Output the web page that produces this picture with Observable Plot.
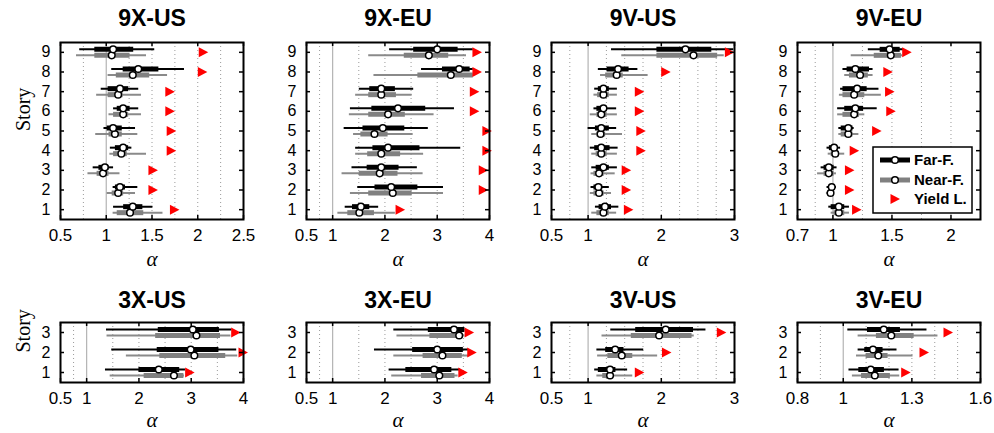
<!DOCTYPE html>
<html><head><meta charset="utf-8">
<script src="https://cdn.jsdelivr.net/npm/d3@7"></script>
<script src="https://cdn.jsdelivr.net/npm/@observablehq/plot@0.6"></script>
<style>
body{margin:0;background:#fff;}
#root{position:relative;width:994px;height:433px;overflow:hidden;font-family:"Liberation Sans",Arial,sans-serif;color:#000;}
.panel{position:absolute;}
</style></head><body><div id="root"></div>
<script>
// Rows are stories 1..n: [min, q1, median, q3, max]
const far9XUS = [[1.08,1.19,1.29,1.40,1.51],[1.075,1.10,1.15,1.21,1.345],[0.857,0.92,0.985,1.03,1.08],[1.045,1.10,1.185,1.245,1.28],[0.975,1.01,1.075,1.175,1.32],[1.08,1.12,1.185,1.26,1.355],[0.945,1.02,1.15,1.245,1.355],[1.06,1.185,1.35,1.575,1.855],[0.71,0.875,1.075,1.30,1.53]];
const near9XUS = [[1.075,1.12,1.26,1.41,1.62],[1.01,1.065,1.13,1.19,1.32],[0.80,0.90,0.965,1.03,1.15],[1.04,1.08,1.165,1.23,1.44],[0.885,1.03,1.095,1.175,1.345],[1.03,1.08,1.185,1.245,1.385],[0.895,1.02,1.13,1.185,1.385],[1.02,1.11,1.29,1.475,1.67],[0.675,0.875,1.06,1.26,1.44]];
const yield9XUS = [1.745,1.51,1.51,1.71,1.71,1.695,1.695,2.05,2.06];

const far9XEU = [[1.24,1.38,1.54,1.71,1.88],[1.48,1.81,2.12,2.63,3.12],[1.37,1.66,1.93,2.27,2.62],[1.44,1.77,2.06,2.67,3.45],[1.22,1.58,1.96,2.38,2.83],[1.34,1.75,2.25,2.78,3.33],[1.51,1.71,1.93,2.20,2.55],[2.70,3.10,3.42,3.63,3.69],[2.09,2.55,3.0,3.40,3.69]];
const near9XEU = [[1.10,1.29,1.51,1.80,2.20],[1.34,1.69,2.15,2.52,3.12],[1.18,1.51,1.90,2.25,2.73],[1.44,1.67,1.93,2.30,2.74],[1.40,1.54,1.80,2.06,2.54],[1.32,1.69,2.06,2.39,2.94],[1.44,1.69,1.93,2.22,2.52],[1.79,2.63,3.26,3.69,3.69],[1.69,2.37,2.84,3.22,3.56]];
const yield9XEU = [2.29,3.88,3.88,3.95,3.95,3.71,3.71,3.76,3.76];

const far9VUS = [[1.10,1.15,1.23,1.32,1.42],[1.04,1.08,1.14,1.20,1.29],[1.05,1.11,1.21,1.29,1.40],[1.03,1.09,1.18,1.30,1.41],[1.00,1.10,1.18,1.29,1.39],[1.08,1.12,1.21,1.26,1.39],[1.09,1.14,1.21,1.29,1.40],[1.14,1.26,1.41,1.56,1.68],[1.32,1.94,2.33,2.69,2.99]];
const near9VUS = [[1.05,1.12,1.21,1.29,1.39],[1.03,1.08,1.15,1.22,1.32],[1.04,1.08,1.15,1.22,1.37],[1.05,1.11,1.18,1.26,1.40],[1.05,1.12,1.17,1.24,1.47],[1.03,1.12,1.18,1.26,1.40],[1.08,1.13,1.21,1.29,1.40],[1.17,1.24,1.39,1.48,1.82],[1.46,1.94,2.44,2.77,2.86]];
const yield9VUS = [1.55,1.52,1.52,1.72,1.72,1.70,1.70,2.06,2.93];

const far9VEU = [[0.965,0.985,1.05,1.10,1.14],[0.95,0.97,0.99,1.015,1.03],[0.90,0.925,0.965,1.01,1.035],[0.95,0.97,1.01,1.04,1.065],[1.05,1.07,1.13,1.17,1.18],[1.04,1.10,1.19,1.26,1.375],[1.065,1.085,1.205,1.29,1.39],[1.085,1.12,1.19,1.31,1.34],[1.30,1.40,1.48,1.57,1.60]];
const near9VEU = [[0.985,1.01,1.05,1.10,1.14],[0.945,0.96,0.98,1.0,1.01],[0.87,0.925,0.965,1.01,1.03],[0.96,0.985,1.02,1.055,1.10],[1.05,1.07,1.13,1.17,1.22],[1.04,1.085,1.18,1.225,1.27],[1.055,1.085,1.18,1.27,1.41],[1.10,1.14,1.23,1.30,1.34],[1.155,1.35,1.49,1.58,1.59]];
const yield9VEU = [1.20,1.14,1.14,1.18,1.37,1.49,1.48,1.465,1.625];

const far3XUS = [[1.36,2.0,2.38,2.78,2.89],[1.48,2.35,2.99,3.53,3.87],[1.38,2.37,3.03,3.54,3.78]];
const near3XUS = [[1.45,2.10,2.67,2.86,2.87],[1.76,2.40,3.06,3.66,3.89],[1.39,2.32,3.10,3.56,3.76]];
const yield3XUS = [2.97,3.99,3.85];

const far3XEU = [[2.08,2.40,2.94,3.28,3.44],[1.80,2.53,3.0,3.50,3.60],[2.17,2.83,3.32,3.53,3.53]];
const near3XEU = [[2.13,2.70,3.04,3.34,3.40],[2.17,2.73,3.10,3.48,3.60],[2.23,2.86,3.42,3.50,3.53]];
const yield3XEU = [3.49,3.66,3.61];

const far3VUS = [[1.09,1.14,1.30,1.38,1.54],[1.12,1.24,1.37,1.49,1.76],[1.31,1.65,2.06,2.44,2.61]];
const near3VUS = [[1.12,1.20,1.30,1.35,1.61],[1.13,1.27,1.46,1.61,1.95],[1.19,1.59,1.97,2.42,2.45]];
const yield3VUS = [1.70,2.07,2.82];

const far3VEU = [[1.025,1.068,1.12,1.18,1.244],[1.065,1.094,1.13,1.174,1.235],[1.02,1.106,1.177,1.25,1.366]];
const near3VEU = [[1.04,1.08,1.138,1.206,1.247],[1.058,1.10,1.153,1.196,1.305],[1.065,1.145,1.21,1.31,1.414]];
const yield3VEU = [1.273,1.353,1.458];

const titles = ["9X-US","9X-EU","9V-US","9V-EU","3X-US","3X-EU","3V-US","3V-EU"];
const xDomains = [[0.5,2.5],[0.5,4],[0.5,3],[0.7,2.25],[0.5,4],[0.5,4],[0.5,3],[0.8,1.6]];
const xTickSets = [[0.5,1,1.5,2,2.5],[0.5,1,2,3,4],[0.5,1,2,3],[0.7,1,1.5,2],[0.5,1,2,3,4],[0.5,1,2,3,4],[0.5,1,2,3],[0.8,1,1.3,1.6]];
const gridSets = [[0.75,1.25,1.5,1.75,2,2.25],[0.75,1.5,2,2.5,3,3.5],[0.75,1.25,1.5,1.75,2,2.25,2.5,2.75],[0.85,1.25,1.5,1.75,2],[0.75,1.5,2,2.5,3,3.5],[0.75,1.5,2,2.5,3,3.5],[0.75,1.25,1.5,1.75,2,2.25,2.5,2.75],[0.9,1.1,1.2,1.3,1.4,1.5]];
const farSets = [far9XUS,far9XEU,far9VUS,far9VEU,far3XUS,far3XEU,far3VUS,far3VEU];
const nearSets = [near9XUS,near9XEU,near9VUS,near9VEU,near3XUS,near3XEU,near3VUS,near3VEU];
const yieldSets = [yield9XUS,yield9XEU,yield9VUS,yield9VEU,yield3XUS,yield3XEU,yield3VUS,yield3VEU];
const legendLabels = ["Far-F.","Near-F.","Yield L."];

const rightTri = {draw(ctx){ ctx.moveTo(5,0); ctx.lineTo(-4.5,-5); ctx.lineTo(-4.5,5); ctx.closePath(); }};
const root = document.getElementById("root");
const frameLefts = [60, 306, 551, 797];
const FW = 183;

titles.forEach((title, i) => {
  const row = i < 4 ? 0 : 1, col = i % 4;
  const far = farSets[i], near = nearSets[i], yl = yieldSets[i];
  const n = far.length;
  const stories = d3.range(1, n + 1);
  const toRows = arr => arr.map((r, k) => ({story: k + 1, min: r[0], q1: r[1], med: r[2], q3: r[3], max: r[4]}));
  const farR = toRows(far), nearR = toRows(near);
  const yR = yl.map((v, k) => ({story: k + 1, v}));
  const top = row === 0 ? 0 : 270;
  const H = row === 0 ? 270 : 163;
  const mT = row === 0 ? 42 : 52;
  const mB = 51;
  const FH = H - mT - mB;
  const W = 245, mL = 50, mR = W - mL - FW;
  const titleDy = row === 0 ? -23.5 : -22;
  const alphaDy = row === 0 ? 40 : 38;
  const xt = xTickSets[i];
  const marks = [
    Plot.ruleX(gridSets[i], {stroke: "#9a9a9a", strokeWidth: 1, strokeDasharray: "1,3"}),
    Plot.ruleX([1], {stroke: "#b4b4b4", strokeWidth: 1.2}),
    Plot.ruleY(nearR, {y: "story", x1: "min", x2: "max", stroke: "#8a8a8a", strokeWidth: 2, dy: 3}),
    Plot.ruleY(nearR, {y: "story", x1: "q1", x2: "q3", stroke: "#808080", strokeWidth: 5, dy: 3}),
    Plot.ruleY(farR, {y: "story", x1: "min", x2: "max", stroke: "#000", strokeWidth: 2, dy: -3}),
    Plot.ruleY(farR, {y: "story", x1: "q1", x2: "q3", stroke: "#000", strokeWidth: 5, dy: -3}),
    Plot.dot(nearR, {x: "med", y: "story", r: 3.3, fill: "#fff", stroke: "#000", strokeWidth: 1.5, dy: 3}),
    Plot.dot(farR, {x: "med", y: "story", r: 3.3, fill: "#fff", stroke: "#000", strokeWidth: 1.5, dy: -3}),
    Plot.dot(yR, {x: "v", y: "story", symbol: rightTri, fill: "#ff0000", stroke: "none"}),
    Plot.tickY(stories, {y: d => d, insetRight: FW - 4, stroke: "#000", strokeWidth: 1.5}),
    Plot.tickY(stories, {y: d => d, insetLeft: FW - 4, stroke: "#000", strokeWidth: 1.5}),
    Plot.tickX(xt, {x: d => d, insetBottom: FH - 4, stroke: "#000", strokeWidth: 1.5}),
    Plot.tickX(xt, {x: d => d, insetTop: FH - 4, stroke: "#000", strokeWidth: 1.5}),
    Plot.frame({stroke: "#000", strokeWidth: 2}),
    Plot.axisX(xt, {tickSize: 0, tickPadding: 9, fontSize: 17, label: null, tickFormat: d => String(d)}),
    Plot.axisY(stories, {tickSize: 0, tickPadding: 10, fontSize: 16, label: null, tickFormat: d => String(d)}),
    Plot.text([title], {frameAnchor: "top", dy: titleDy, lineAnchor: "middle", fontSize: 23, fontWeight: "bold"}),
    Plot.text(["\u03b1"], {frameAnchor: "bottom", dy: alphaDy, lineAnchor: "middle", fontSize: 21, fontStyle: "italic", fontFamily: "Liberation Serif, serif"})
  ];
  if (col === 0) marks.push(Plot.text(["Story"], {frameAnchor: "left", dx: -37, rotate: -90, lineAnchor: "middle", fontSize: 20, fontFamily: "Liberation Serif, serif"}));
  const svg = Plot.plot({
    width: W, height: H,
    marginLeft: mL, marginRight: mR, marginTop: mT, marginBottom: mB,
    x: {domain: xDomains[i]},
    y: {domain: [0.5, n + 0.5]},
    style: {fontFamily: "Liberation Sans, Arial, sans-serif", color: "#000", background: "transparent", overflow: "visible"},
    marks
  });
  svg.classList.add("panel");
  svg.style.left = (frameLefts[col] - mL) + "px";
  svg.style.top = top + "px";
  root.appendChild(svg);
});

// legend (inside 9V-EU panel)
const ns = "http://www.w3.org/2000/svg";
const leg = document.createElementNS(ns, "svg");
leg.setAttribute("width", 102); leg.setAttribute("height", 68);
leg.style.position = "absolute"; leg.style.left = "872px"; leg.style.top = "146px";
const items = [
  {y: 14, kind: "line", color: "#000"},
  {y: 34, kind: "line", color: "#808080"},
  {y: 53, kind: "tri"}
];
let html = `<rect x="1" y="1" width="99" height="66" fill="#fff" stroke="#000" stroke-width="1.5"/>`;
items.forEach((it, k) => {
  if (it.kind === "line") {
    html += `<line x1="8" x2="38" y1="${it.y}" y2="${it.y}" stroke="${it.color}" stroke-width="5"/>`;
    html += `<circle cx="23" cy="${it.y}" r="3.3" fill="#fff" stroke="#000" stroke-width="1.5"/>`;
  } else {
    html += `<path d="M${23+5},${it.y} L${23-4.5},${it.y-5} L${23-4.5},${it.y+5} Z" fill="#ff0000"/>`;
  }
  html += `<text x="42" y="${it.y}" dy="0.35em" font-size="15" font-weight="bold" font-family="Liberation Sans, Arial, sans-serif">${legendLabels[k]}</text>`;
});
leg.innerHTML = html;
root.appendChild(leg);
</script></body></html>
